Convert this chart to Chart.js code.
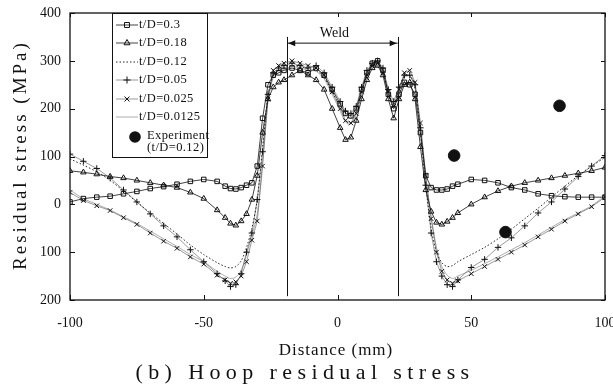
<!DOCTYPE html>
<html>
<head>
<meta charset="utf-8">
<script src="https://cdn.jsdelivr.net/npm/chart.js@4.4.1/dist/chart.umd.min.js"></script>
<style>
  html, body { margin: 0; padding: 0; background: #fff; }
  #wrap { width: 613px; height: 387px; }
</style>
</head>
<body>
<div id="wrap"><canvas id="chart" width="613" height="387"></canvas></div>
<script>
// distance from weld centre (mm), shared by all simulated curves
const distance = [-100,-95,-90,-85,-80,-75,-70,-65,-60,-55,-50,-45,
  -42,-40,-38,-36,-34,-32,-30,-28,-26,-24,-22,-20,
  -17,-14,-11,-8,-5,-2,
  1,3,5,7,9,11,13,15,17,19,21,23,25,27,29,
  31,33,35,37,39,41,43,45,
  50,55,60,65,70,75,80,85,90,95,100];

// hoop residual stress (MPa) for each t/D ratio
const stress03 = [5,12,15,17,22,27,33,37,42,48,52,48,
  38,33,32,35,40,45,80,180,250,270,275,280,
  285,280,275,285,270,240,
  210,190,185,200,240,275,295,300,280,230,200,230,255,250,230,
  150,60,35,30,30,32,38,42,
  52,50,45,35,30,22,18,16,15,15,15];
const stress018 = [70,67,63,58,55,50,45,40,35,25,12,-12,
  -28,-40,-44,-35,-20,10,60,150,220,245,255,260,
  270,280,270,260,240,200,
  160,135,140,175,220,260,285,290,270,220,180,220,250,255,220,
  120,30,-15,-38,-42,-36,-28,-18,
  0,15,28,38,45,50,55,60,65,70,77];
const stress012 = [95,82,68,50,28,5,-18,-40,-62,-85,-105,-122,
  -130,-133,-130,-118,-90,-50,10,120,225,270,280,285,
  290,288,283,280,265,235,
  205,185,180,195,235,270,290,295,280,235,210,240,268,270,245,
  150,40,-50,-100,-122,-130,-128,-120,
  -105,-90,-72,-52,-30,-8,15,38,60,80,98];
const stress005 = [105,90,75,55,30,5,-20,-45,-68,-95,-120,-145,
  -160,-172,-168,-145,-100,-60,10,110,230,275,285,290,
  295,290,285,290,275,245,
  215,195,190,205,245,280,295,300,285,240,215,245,270,270,250,
  160,40,-60,-120,-150,-168,-172,-158,
  -132,-115,-90,-70,-45,-18,5,32,58,80,102];
const stress0025 = [25,8,-3,-13,-28,-42,-60,-77,-92,-110,-125,-148,
  -158,-165,-162,-150,-120,-75,-35,80,220,280,290,295,
  300,295,290,285,270,235,
  200,175,170,190,235,270,290,295,275,235,205,240,275,280,255,
  170,60,-30,-100,-140,-158,-165,-160,
  -145,-130,-115,-100,-85,-68,-52,-35,-20,-5,15];
const stress00125 = [30,12,0,-12,-26,-40,-56,-72,-88,-105,-120,-140,
  -150,-155,-152,-138,-105,-65,-20,90,215,265,275,282,
  288,285,280,278,262,230,
  195,172,168,188,230,268,288,292,276,232,205,238,265,268,242,
  160,55,-25,-90,-130,-148,-155,-150,
  -138,-124,-110,-95,-80,-64,-48,-32,-18,-3,18];

// measured points (t/D = 0.12)
const expDistance = [43.6, 62.8, 83];
const expStress = [102, -58, 206];

// weld zone edges (mm)
const weldEdges = [-18.8, 22.5];

const xTicks = [-100, -50, 0, 50, 100];
const yTicks = [-200, -100, 0, 100, 200, 300, 400];

const INK = "#111";
const SERIF = "'Liberation Serif', 'DejaVu Serif', serif";

function pts(xs, ys) {
  return xs.map((x, i) => ({ x: x, y: ys[i] }));
}

function curve(label, ys, style, extra) {
  return Object.assign({
    label: label,
    data: pts(distance, ys),
    showLine: true,
    borderColor: INK,
    borderWidth: 0.8,
    pointStyle: style || false,
    pointRadius: style ? 3.2 : 0,
    pointBorderColor: INK,
    pointBackgroundColor: "rgba(255,255,255,0)",
    pointBorderWidth: 1,
    tension: 0
  }, extra || {});
}

const datasets = [
  curve("t/D=0.3", stress03, "rect"),
  curve("t/D=0.18", stress018, "triangle"),
  curve("t/D=0.12", stress012, null, { borderDash: [1.5, 2], borderWidth: 0.9, tension: 0.3 }),
  curve("t/D=0.05", stress005, "cross", { borderWidth: 0.6, borderColor: "#555" }),
  curve("t/D=0.025", stress0025, "crossRot", { borderWidth: 0.6, borderColor: "#555" }),
  curve("t/D=0.0125", stress00125, null, { borderWidth: 0.6, borderColor: "#777", tension: 0.3 }),
  {
    label: "Experiment",
    data: pts(expDistance, expStress),
    showLine: false,
    pointStyle: "circle",
    pointRadius: 5.8,
    pointBackgroundColor: INK,
    pointBorderColor: INK
  }
];

// frame, inward ticks, weld marker, legend and titles
const decorations = {
  id: "decorations",
  beforeDatasetsDraw(chart) {
    const ctx = chart.ctx, xs = chart.scales.x, ys = chart.scales.y;
    const top = ys.getPixelForValue(350), bottom = ys.getPixelForValue(-192);
    const arrowY = ys.getPixelForValue(337);
    const xl = xs.getPixelForValue(weldEdges[0]), xr = xs.getPixelForValue(weldEdges[1]);
    ctx.save();
    ctx.strokeStyle = INK;
    ctx.fillStyle = INK;
    ctx.lineWidth = 1;
    [xl, xr].forEach(x => {
      ctx.beginPath();
      ctx.moveTo(Math.round(x) + 0.5, top);
      ctx.lineTo(Math.round(x) + 0.5, bottom);
      ctx.stroke();
    });
    ctx.beginPath();
    ctx.moveTo(xl, arrowY);
    ctx.lineTo(xr, arrowY);
    ctx.stroke();
    // arrow heads
    ctx.beginPath();
    ctx.moveTo(xl + 1, arrowY); ctx.lineTo(xl + 8, arrowY - 3); ctx.lineTo(xl + 8, arrowY + 3); ctx.closePath();
    ctx.moveTo(xr - 1, arrowY); ctx.lineTo(xr - 8, arrowY - 3); ctx.lineTo(xr - 8, arrowY + 3); ctx.closePath();
    ctx.fill();
    ctx.font = "14px " + SERIF;
    ctx.textAlign = "center";
    ctx.textBaseline = "bottom";
    ctx.fillText("Weld", (xl + xr) / 2 - 8, arrowY - 3);
    ctx.restore();
  },
  afterDraw(chart) {
    const ctx = chart.ctx, xs = chart.scales.x, ys = chart.scales.y;
    // plot frame follows the scale ends
    const L = xs.getPixelForValue(-100), R = xs.getPixelForValue(100);
    const T = ys.getPixelForValue(400), B = ys.getPixelForValue(-200);
    ctx.save();
    ctx.strokeStyle = INK;
    ctx.lineWidth = 1.3;
    ctx.strokeRect(L, T, R - L, B - T);
    ctx.lineWidth = 1;
    xTicks.forEach(v => {
      const x = Math.round(xs.getPixelForValue(v)) + 0.5;
      ctx.beginPath();
      ctx.moveTo(x, B); ctx.lineTo(x, B - 5);
      ctx.moveTo(x, T); ctx.lineTo(x, T + 4);
      ctx.stroke();
    });
    yTicks.forEach(v => {
      const y = Math.round(ys.getPixelForValue(v)) + 0.5;
      ctx.beginPath();
      ctx.moveTo(L, y); ctx.lineTo(L + 5, y);
      ctx.moveTo(R, y); ctx.lineTo(R - 4, y);
      ctx.stroke();
    });

    // legend box
    const rows = [25, 43, 62, 80, 99, 117];
    ctx.fillStyle = "#fff";
    ctx.fillRect(112, 13, 95, 144);
    ctx.strokeStyle = INK;
    ctx.lineWidth = 1;
    ctx.strokeRect(112.5, 13.5, 95, 144);
    ctx.font = "12.5px " + SERIF;
    ctx.textBaseline = "middle";
    ctx.textAlign = "left";
    ctx.letterSpacing = "0.4px";
    rows.forEach((y, i) => {
      const ds = chart.data.datasets[i];
      ctx.save();
      ctx.strokeStyle = ds.borderColor;
      ctx.lineWidth = ds.borderWidth;
      ctx.setLineDash(ds.borderDash || []);
      ctx.beginPath();
      ctx.moveTo(116, y); ctx.lineTo(138, y);
      ctx.stroke();
      ctx.restore();
      if (ds.pointStyle) {
        ctx.strokeStyle = INK;
        ctx.fillStyle = "rgba(255,255,255,0)";
        ctx.lineWidth = 1;
        Chart.helpers.drawPoint(ctx, { pointStyle: ds.pointStyle, radius: 3.5, borderWidth: 1, rotation: 0 }, 127, y);
      }
      ctx.fillStyle = INK;
      ctx.fillText(ds.label, 139, y);
    });
    ctx.beginPath();
    ctx.arc(135, 137, 5.8, 0, Math.PI * 2);
    ctx.fill();
    ctx.fillText("Experiment", 147, 136);
    ctx.fillText("(t/D=0.12)", 147, 148);

    // axis titles and caption
    ctx.fillStyle = INK;
    ctx.textAlign = "center";
    ctx.textBaseline = "middle";
    ctx.font = "17px " + SERIF;
    ctx.letterSpacing = "1px";
    ctx.fillText("Distance (mm)", 336, 351);
    ctx.font = "22px " + SERIF;
    ctx.letterSpacing = "5.4px";
    ctx.fillText("(b) Hoop residual stress", 305, 373);
    ctx.save();
    ctx.translate(21, 155);
    ctx.rotate(-Math.PI / 2);
    ctx.font = "19px " + SERIF;
    ctx.letterSpacing = "3px";
    ctx.fillText("Residual stress (MPa)", 0, 0);
    ctx.restore();
    ctx.restore();
  }
};

new Chart(document.getElementById("chart"), {
  type: "scatter",
  data: { datasets: datasets },
  options: {
    responsive: false,
    animation: false,
    devicePixelRatio: 1,
    layout: { padding: { left: 0, right: 0, top: 13, bottom: 25 } },
    plugins: { legend: { display: false }, tooltip: { enabled: false } },
    scales: {
      x: {
        type: "linear",
        min: -100, max: 100,
        afterBuildTicks: s => { s.ticks = xTicks.map(v => ({ value: v })); },
        afterFit: s => { s.height = 62; s.paddingLeft = 0; s.paddingRight = 8; },
        grid: { display: false, drawTicks: false },
        border: { display: false },
        ticks: { color: INK, padding: 15, font: { family: SERIF, size: 14 } }
      },
      y: {
        type: "linear",
        min: -200, max: 400,
        afterBuildTicks: s => { s.ticks = yTicks.map(v => ({ value: v })); },
        afterFit: s => { s.width = 70; s.paddingTop = 0; s.paddingBottom = 0; },
        grid: { display: false, drawTicks: false },
        border: { display: false },
        ticks: {
          color: INK, padding: 9, font: { family: SERIF, size: 14 },
          // the scan shows the negative tick values without their minus sign
          callback: v => String(Math.abs(v))
        }
      }
    }
  },
  plugins: [decorations]
});
</script>
</body>
</html>
